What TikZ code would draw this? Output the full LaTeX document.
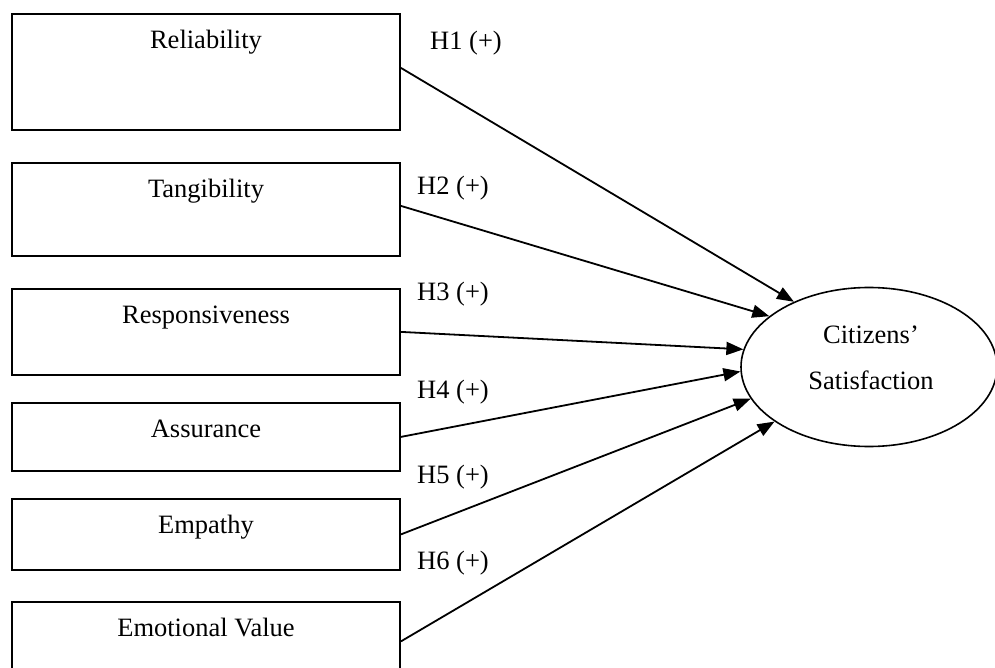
\documentclass[tikz,border=0pt]{standalone}
\usepackage{fontspec}
\setmainfont{Liberation Serif}
\usetikzlibrary{shapes.geometric,arrows.meta}
\tikzset{
  boxnode/.style={draw, line width=1.8pt, minimum width=388pt, inner sep=0pt,
    text height=35pt, anchor=north, font=\fontsize{26.5}{30}\selectfont},
  hyplabel/.style={inner sep=0pt, anchor=base west, font=\fontsize{26.5}{30}\selectfont},
  conn/.style={line width=1.8pt, -{Triangle[length=17pt,width=13pt]}}
}
\begin{document}
\begin{tikzpicture}[x=1pt, y=-1pt]
\useasboundingbox (0,0) rectangle (995,668);
\clip (0,0) rectangle (995,668);
% boxes
\node[boxnode, text depth=81pt] (b1) at (206,13) {Reliability};
\node[boxnode, text depth=58pt] (b2) at (206,162) {Tangibility};
\node[boxnode, text depth=51pt] (b3) at (206,288) {Responsiveness};
\node[boxnode, text depth=33pt] (b4) at (206,402) {Assurance};
\node[boxnode, text depth=36pt] (b5) at (206,498) {Empathy};
\node[boxnode, text depth=44pt] (b6) at (206,601) {Emotional Value};
% outcome
\node[ellipse, draw, line width=1.6pt, minimum width=256pt, minimum height=159pt, inner sep=0pt] (cs) at (869,367) {};
\node[align=center, inner sep=0pt, font=\fontsize{26.5}{46}\selectfont] (cstext) at (871,358) {Citizens’\\Satisfaction};
% hypothesis labels
\node[hyplabel] (h1) at (430,50) {H1 (+)};
\node[hyplabel] (h2) at (417,195) {H2 (+)};
\node[hyplabel] (h3) at (417,300) {H3 (+)};
\node[hyplabel] (h4) at (417,398) {H4 (+)};
\node[hyplabel] (h5) at (417,483) {H5 (+)};
\node[hyplabel] (h6) at (417,569) {H6 (+)};
% connectors
\draw[conn] ([yshift=4pt]b1.east) -- (cs.139.7);
\draw[conn] ([yshift=3.5pt]b2.east) -- (cs.153);
\draw[conn] (b3.east) -- (cs.172.4);
\draw[conn] (b4.east) -- (cs.182.7);
\draw[conn] (b5.east) -- (cs.195.5);
\draw[conn] (b6.east) -- (cs.210);
\end{tikzpicture}
\end{document}
